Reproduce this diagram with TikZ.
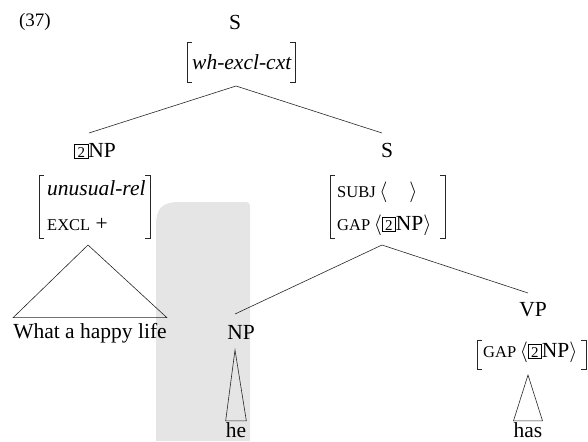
\documentclass[tikz,border=0pt]{standalone}
\usepackage{fontspec}
\setmainfont{Liberation Serif}
\newcommand\bigsz{\fontsize{21.5}{24}\selectfont}
\newcommand\smc[1]{{\fontsize{16.5}{18}\selectfont #1}}
\newcommand\tagtwo{{\setlength\fboxsep{0pt}\setlength\fboxrule{0.5pt}\fbox{\makebox[13pt]{\rule[-1pt]{0pt}{14pt}\fontsize{15}{15}\selectfont 2}}}}
\newcommand\brackets[1]{%
  \draw[brk] ([xshift=5pt]#1.north west) -- (#1.north west) -- (#1.south west) -- ([xshift=5pt]#1.south west);
  \draw[brk] ([xshift=-5pt]#1.north east) -- (#1.north east) -- (#1.south east) -- ([xshift=-5pt]#1.south east);}
\begin{document}
\begin{tikzpicture}[x=1pt,y=-1pt,
  lbl/.style={inner sep=0pt, font=\bigsz},
  leaf/.style={inner xsep=0pt, inner ysep=1pt, anchor=base, font=\bigsz},
  row/.style={inner sep=0pt, anchor=base west, font=\bigsz},
  avmbox/.style={inner sep=0pt},
  brk/.style={line width=0.6pt, black!85},
  edge/.style={line width=0.6pt, black!85},
  wm/.style={fill=gray!20}]
\useasboundingbox (0,0) rectangle (588,441);
% watermark
\fill[wm] (156,441) -- (156,226) .. controls (156,208) and (162,202) .. (180,202)
  -- (244,202) .. controls (249,202) and (250,203) .. (250,208) -- (250,441) -- cycle;
% example number
\node[lbl, font=\fontsize{19}{22}\selectfont] (ex) at (35,22) {(37)};
% root
\node[lbl] (s0) at (235,22) {S};
\node[avmbox, minimum width=108pt, minimum height=39pt] (avm0) at (241,62.5) {};
\brackets{avm0}
\node[row] (avm0r) at (192,70) {\itshape wh-excl-cxt};
\coordinate (a0) at (236,86);
\coordinate (e1) at (89,133);
\coordinate (e2) at (382,133);
\draw[edge] (e1) -- (a0) -- (e2);
% left NP
\node[lbl] (np2) at (95,151) {\tagtwo NP};
\node[avmbox, minimum width=111pt, minimum height=63pt] (avm1) at (94.5,206.5) {};
\brackets{avm1}
\node[row] (avm1a) at (47,195) {\itshape unusual-rel};
\node[row] (avm1b) at (47,230) {\smc{EXCL} +};
\coordinate (t1) at (88,245);
\node[leaf, inner ysep=5pt] (life) at (90,338) {What a happy life};
\draw[edge] (t1) -- (life.north west) -- (life.north east) -- cycle;
% right S
\node[lbl] (s1) at (387,150) {S};
\node[avmbox, minimum width=115pt, minimum height=63pt] (avm2) at (387.5,206.5) {};
\brackets{avm2}
\node[row] (avm2a) at (337,197) {\smc{SUBJ}\,$\langle$\hspace{22pt}$\rangle$};
\node[row] (avm2b) at (337,230) {\smc{GAP}\,$\langle$\tagtwo NP$\rangle$};
\coordinate (a2) at (382,245);
\coordinate (e3) at (235,314);
\coordinate (e4) at (528,293);
\draw[edge] (e3) -- (a2) -- (e4);
% NP he
\node[lbl] (np) at (241,332) {NP};
\coordinate (t2) at (235,350);
\node[leaf] (he) at (236,437) {he};
\draw[edge] (t2) -- (he.north west) -- (he.north east) -- cycle;
% VP
\node[lbl] (vp) at (533,310) {VP};
\node[avmbox, minimum width=109pt, minimum height=29pt] (avm3) at (531.5,354.5) {};
\brackets{avm3}
\node[row] (avm3a) at (483,357) {\smc{GAP}\,$\langle$\tagtwo NP$\rangle$};
\coordinate (t3) at (528,375);
\node[leaf] (has) at (528,437) {has};
\draw[edge] (t3) -- (has.north west) -- (has.north east) -- cycle;
\end{tikzpicture}
\end{document}
